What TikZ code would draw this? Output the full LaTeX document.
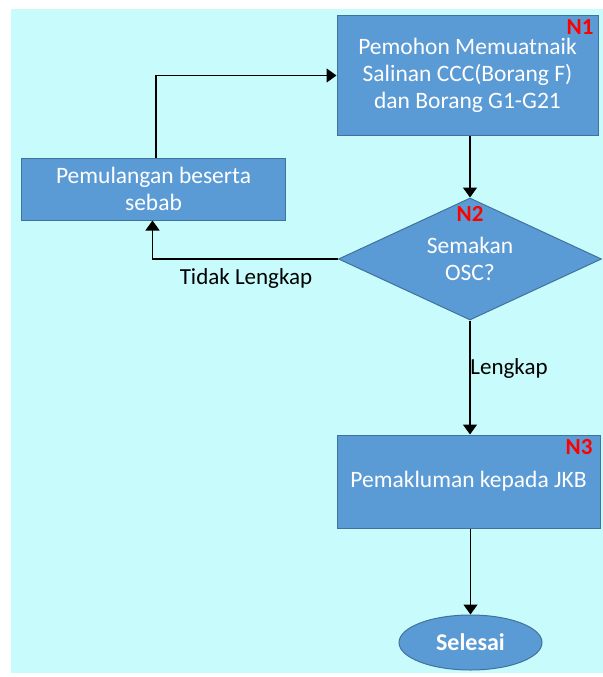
\documentclass[tikz,border=0pt]{standalone}
\usepackage{fontspec}
\setmainfont{Carlito}
\usetikzlibrary{shapes.geometric,arrows.meta}
\definecolor{bgcyan}{HTML}{C8FCFC}
\definecolor{boxfill}{HTML}{5B9BD5}
\definecolor{boxline}{HTML}{41719C}
\definecolor{tagred}{HTML}{FF0000}
\tikzset{
  box/.style={draw=boxline, fill=boxfill, line width=1bp, text=white, align=center, inner sep=0pt,
    font=\fontsize{23.5bp}{27bp}\selectfont},
  tag/.style={text=tagred, font=\fontsize{23bp}{25bp}\selectfont\bfseries, inner sep=0pt},
  lbl/.style={text=black, font=\fontsize{23bp}{26bp}\selectfont, inner sep=0pt},
  arr/.style={draw=black, line width=1.4bp, -{Triangle[width=14bp,length=10bp]}}
}
\begin{document}
\begin{tikzpicture}[x=1bp,y=-1bp]
\useasboundingbox (0,0) rectangle (603,677);
\fill[white] (0,0) rectangle (603,677);
\fill[bgcyan] (11,9) rectangle (603,673);
% nodes
\node[box, minimum width=261bp, minimum height=119bp] (n1) at (467.5,75.5)
  {Pemohon Memuatnaik\\Salinan CCC(Borang F)\\dan Borang G1-G21};
\node[box, minimum width=263bp, minimum height=62bp] (back) at (153.5,189)
  {Pemulangan beserta\\sebab};
\node[box, diamond, aspect=2.15, minimum width=263bp, minimum height=122bp] (d) at (470,259)
  {Semakan\\OSC?};
\node[box, minimum width=263bp, minimum height=93bp] (n3) at (468.5,481.5)
  {Pemakluman kepada JKB};
\node[box, ellipse, minimum width=143bp, minimum height=55bp, font=\fontsize{24bp}{26bp}\selectfont\bfseries] (end) at (470.5,642.5)
  {Selesai};
% tags
\node[tag] (t1) at (580,27) {N1};
\node[tag] (t2) at (470,214) {N2};
\node[tag] (t3) at (579,447) {N3};
% labels
\node[lbl] (ltl) at (246,278) {Tidak Lengkap};
\node[lbl] (ll) at (509,368) {Lengkap};
% connectors
\draw[arr] (d.north |- n1.south) -- (d.north);
\draw[arr] (d.south) -- (d.south |- n3.north);
\draw[arr] (d.west) -| ([xshift=-1bp]back.south);
\draw[arr] ([xshift=2.5bp]back.north) |- (n1.west);
\draw[arr] (end.north |- n3.south) -- (end.north);
\end{tikzpicture}
\end{document}
